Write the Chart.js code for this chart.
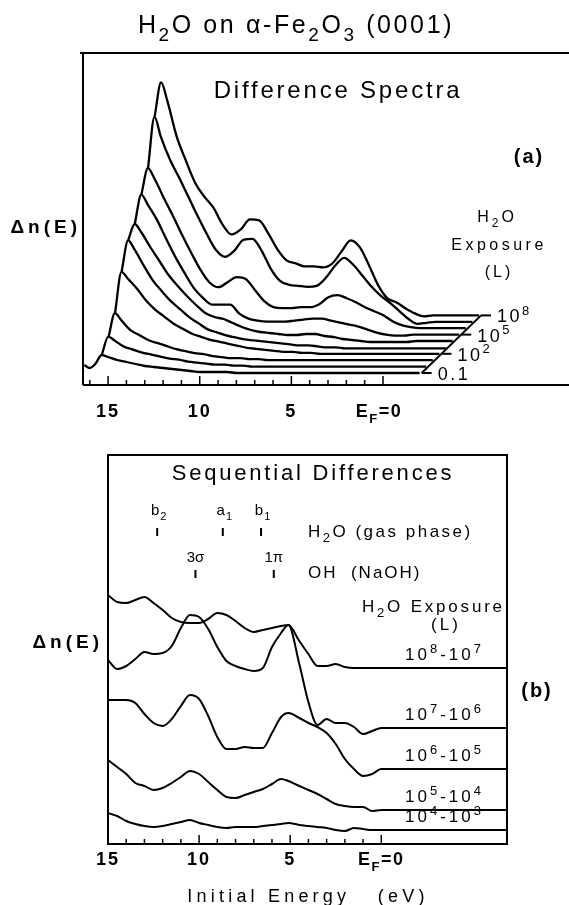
<!DOCTYPE html>
<html>
<head>
<meta charset="utf-8">
<title>H2O on alpha-Fe2O3 (0001)</title>
<script src="https://cdn.jsdelivr.net/npm/chart.js@4.4.1/dist/chart.umd.min.js"></script>
<style>
  html, body { margin: 0; padding: 0; background: #fff; }
  #page { position: relative; width: 569px; height: 905px; }
  canvas { position: absolute; left: 0; }
  #chartA { top: 0; }
  #chartB { top: 430px; }
</style>
</head>
<body>
<div id="page">
  <canvas id="chartA" width="569" height="430"></canvas>
  <canvas id="chartB" width="569" height="475"></canvas>
</div>
<script>
// ---------- (a) difference spectra, front (0.1 L) to back (1e8 L) ----------
const energyA = [16.3, 16.0, 15.7, 15.35, 15.0, 14.5, 14.0, 13.5, 13.0, 12.5, 12.0, 11.5, 11.0, 10.5, 10.0,
  9.5, 9.0, 8.5, 8.0, 7.5, 7.0, 6.5, 6.0, 5.5, 5.0, 4.5, 4.0, 3.5, 3.0, 2.5, 2.0, 1.5, 1.0, 0.5, 0.0,
  -0.5, -1.0, -1.5, -2.0];

const diff0p1 = [20, 17, 21, 30, 28, 25, 23, 21, 19, 18, 17, 16, 15, 14, 13, 13, 13, 13, 12,
  12, 12, 12, 12, 12, 12, 12, 12, 12, 12, 12, 12, 12, 12, 12, 12, 12, 12, 12, 12];
const diff1 = [null, null, 24, 42, 38, 32, 29, 26, 24, 22, 20, 19, 17, 16, 15, 14, 14, 13, 13,
  12, 12, 12, 12, 12, 12, 12, 12, 12, 12, 12, 12, 12, 12, 12, 12, 12, 12, 12, 12];
const diff10 = [null, null, 35, 59, 52, 42, 37, 32, 29, 26, 23, 21, 19, 18, 16, 15, 14, 14, 13,
  13, 12, 12, 12, 12, 12, 12, 12, 12, 12, 12, 12, 12, 12, 12, 12, 12, 12, 12, 12];
const diff1e2 = [null, null, 53, 94, 87, 77, 65, 56, 49, 42, 37, 32, 29, 26, 24, 22, 20, 18, 17,
  16, 15, 14, 14, 13, 13, 12, 12, 12, 12, 12, 12, 12, 12, 12, 12, 12, 12, 12, 12];
const diff1e3 = [null, null, 88, 119, 110, 94, 79, 68, 58, 50, 42, 36, 30, 27, 24, 22, 20, 19, 18,
  17, 16, 15, 14, 14, 13, 12, 12, 11, 11, 11, 11, 11, 11, 11, 11, 11, 11, 11, 11];
const diff1e4 = [null, null, 113, 129, 121, 106, 92, 78, 67, 57, 48, 40, 36, 34, 30, 26, 23, 21, 20,
  19, 18, 18, 19, 19, 17, 16, 14, 13, 12, 11, 11, 11, 11, 11, 12, 12, 12, 12, 12];
const diff1e5 = [null, null, 123, 152, 142, 127, 108, 90, 74, 59, 49, 42, 42, 42, 33, 28, 26, 25, 25,
  25, 26, 27, 28, 28, 26, 24, 22, 20, 17, 14, 12, 11, 11, 12, 12, 12, 12, 12, 12];
const diff1e6 = [null, null, 146, 172, 162, 143, 125, 106, 88, 71, 58, 53, 58, 63, 61, 50, 39, 33, 32,
  32, 33, 33, 36, 43, 45, 42, 38, 33, 29, 25, 19, 15, 13, 12, 12, 12, 12, 12, 12];
const diff1e7 = [null, null, 166, 217, 197, 174, 156, 137, 118, 100, 84, 77, 83, 94, 95, 83, 65, 53, 49,
  48, 47, 48, 56, 68, 76, 69, 58, 47, 38, 31, 23, 15, 10, 11, 12, 12, 12, 12, 12];
const diff1e8 = [null, null, 211, 245, 226, 191, 167, 145, 131, 120, 103, 93, 98, 108, 107, 94, 78, 67, 64,
  61, 61, 60, 64, 76, 87, 80, 62, 42, 29, 25, 19, 14, 11, 12, 12, 12, 12, 12, 12];

const spectraA = [diff0p1, diff1, diff10, diff1e2, diff1e3, diff1e4, diff1e5, diff1e6, diff1e7, diff1e8];
const exposureTicksA = [0, 3, 6, 9];
const exposureLabelsA = [[['0.1', 'n']], [['10', 'n'], ['2', 'sup']], [['10', 'n'], ['5', 'sup']], [['10', 'n'], ['8', 'sup']]];
const ticksA = [16, 15, 14, 13, 12, 11, 10, 9, 8, 7, 6, 5, 4, 3, 2, 1, 0];
const tickLabelsA = [15, 10, 5];

// waterfall offsets between successive exposures
const STEP_E = 0.36;
const STEP_Y = 6.4;

// ---------- (b) sequential differences ----------
const energyB = [15, 14.5, 14, 13.5, 13, 12.5, 12, 11.5, 11, 10.5, 10, 9.5, 9, 8.5, 8, 7.5, 7, 6.5, 6, 5.5,
  5.1, 4.5, 4, 3.5, 3, 2.5, 2, 1.5, 1, 0.5, 0, -6.9];

const seq8to7 = [249, 242, 241, 244, 247, 241, 234, 226, 222, 221, 221, 225, 231, 229, 223, 216, 212, 214, 216, 218,
  219, 203, 190, 178, 178, 180, 177, 176, 176, 176, 176, 176];
const seq7to6 = [184, 175, 178, 185, 192, 190, 191, 198, 216, 229, 227, 215, 197, 183, 178, 175, 173, 176, 197, 211,
  219, 180, 142, 119, 125, 121, 121, 117, 110, 113, 116, 116];
const seq6to5 = [144, 144, 144, 141, 130, 121, 118, 125, 138, 149, 145, 128, 107, 95, 95, 97, 96, 96, 111, 127,
  131, 126, 121, 117, 111, 100, 85, 75, 68, 70, 75, 75];
const seq5to4 = [84, 77, 70, 61, 58, 54, 56, 61, 67, 73, 70, 62, 54, 47, 46, 49, 52, 55, 60, 65,
  63, 58, 54, 50, 45, 40, 38, 37, 37, 33, 34, 34];
const seq4to3 = [31, 28, 23, 20, 18, 17, 18, 20, 22, 24, 21, 19, 17, 16, 17, 17, 17, 18, 19, 20,
  21, 19, 18, 17, 16, 14, 13, 16, 15, 14, 14, 14];

const spectraB = [seq8to7, seq7to6, seq6to5, seq5to4, seq4to3];
const seqLabels = [['8', '7'], ['7', '6'], ['6', '5'], ['5', '4'], ['4', '3']];
const gasPhaseE = [12.3, 8.7, 6.6];
const gasPhaseNames = [['b', '2'], ['a', '1'], ['b', '1']];
const ohE = [10.2, 5.9];
const ohNames = ['3σ', '1π'];
const ticksB = [15, 14, 13, 12, 11, 10, 9, 8, 7, 6, 5, 4, 3, 2, 1, 0];
const tickLabelsB = [15, 10, 5];

const FONT = "'Liberation Sans', Arial, sans-serif";

// draws text made of normal / subscript / superscript runs
function drawRich(ctx, x, y, parts, size, opt = {}) {
  const weight = opt.weight || 'normal';
  const segs = parts.map(([t, kind]) => ({ t, kind, fs: kind === 'n' ? size : Math.round(size * 0.74) }));
  ctx.save();
  ctx.letterSpacing = (opt.spacing || 0) + 'px';
  ctx.fillStyle = '#000';
  ctx.textAlign = 'left';
  ctx.textBaseline = 'alphabetic';
  let total = 0;
  segs.forEach(s => {
    ctx.font = `${weight} ${s.fs}px ${FONT}`;
    s.w = ctx.measureText(s.t).width;
    total += s.w;
  });
  let cx = x;
  if (opt.align === 'center') cx = x - total / 2;
  if (opt.align === 'right') cx = x - total;
  segs.forEach(s => {
    ctx.font = `${weight} ${s.fs}px ${FONT}`;
    let dy = 0;
    if (s.kind === 'sub') dy = size * 0.32;
    if (s.kind === 'sup') dy = -size * 0.42;
    ctx.fillText(s.t, cx, y + dy);
    cx += s.w;
  });
  ctx.restore();
}

function line(ctx, x1, y1, x2, y2) {
  ctx.beginPath();
  ctx.moveTo(x1, y1);
  ctx.lineTo(x2, y2);
  ctx.stroke();
}

function inwardTicks(ctx, scale, bottom) {
  ctx.lineWidth = 1.5;
  scale.ticks.forEach(t => {
    const px = scale.getPixelForValue(t.value);
    line(ctx, px, bottom, px, bottom - (t.value % 5 === 0 ? 9 : 5));
  });
}

function tickLabels(ctx, scale, values, y, dx) {
  values.forEach(v => drawRich(ctx, scale.getPixelForValue(v), y, [[String(v), 'n']], 18, { align: 'center', spacing: 2, weight: 'bold' }));
  drawRich(ctx, scale.getPixelForValue(0) + dx, y, [['E', 'n'], ['F', 'sub'], ['=0', 'n']], 18, { align: 'center', spacing: 1.5, weight: 'bold' });
}

const panelA = {
  id: 'panelA',
  afterDraw(chart) {
    const { ctx, chartArea: a, scales: { x, y } } = chart;
    ctx.save();
    ctx.strokeStyle = '#000';
    ctx.lineWidth = 2;
    line(ctx, 80, a.top, a.right, a.top);
    line(ctx, a.left, a.top, a.left, a.bottom);
    line(ctx, a.left, a.bottom, a.right, a.bottom);
    inwardTicks(ctx, x, a.bottom);
    tickLabels(ctx, x, tickLabelsA, a.bottom + 32, -4);

    // exposure axis joining the ends of the spectra
    const last = energyA.length - 1;
    const endPt = k => ({
      px: x.getPixelForValue(energyA[last] - k * STEP_E) + 2,
      py: y.getPixelForValue(spectraA[k][last] + k * STEP_Y)
    });
    const p0 = endPt(0), p1 = endPt(spectraA.length - 1);
    ctx.lineWidth = 2;
    line(ctx, p0.px, p0.py, p1.px, p1.py);
    exposureTicksA.forEach((k, i) => {
      const p = endPt(k);
      line(ctx, p.px, p.py, p.px + 10, p.py);
      drawRich(ctx, p.px + 16, p.py + 7, exposureLabelsA[i], 18, { spacing: 2.5 });
    });

    drawRich(ctx, 296, 33, [['H', 'n'], ['2', 'sub'], ['O on α-Fe', 'n'], ['2', 'sub'], ['O', 'n'], ['3', 'sub'], [' (0001)', 'n']], 25, { align: 'center', spacing: 2.6 });
    drawRich(ctx, 338, 98, [['Difference Spectra', 'n']], 24, { align: 'center', spacing: 2.8 });
    drawRich(ctx, 529, 163, [['(a)', 'n']], 20, { align: 'center', spacing: 2, weight: 'bold' });
    drawRich(ctx, 81, 233, [['Δn(E)', 'n']], 19, { align: 'right', spacing: 4, weight: 'bold' });
    drawRich(ctx, 497, 222, [['H', 'n'], ['2', 'sub'], ['O', 'n']], 16, { align: 'center', spacing: 3 });
    drawRich(ctx, 499, 250, [['Exposure', 'n']], 16, { align: 'center', spacing: 3.5 });
    drawRich(ctx, 499, 277, [['(L)', 'n']], 16, { align: 'center', spacing: 3 });
    ctx.restore();
  }
};

const panelB = {
  id: 'panelB',
  afterDraw(chart) {
    const { ctx, chartArea: a, scales: { x, y } } = chart;
    ctx.save();
    ctx.strokeStyle = '#000';
    ctx.lineWidth = 2;
    ctx.strokeRect(a.left, a.top, a.right - a.left, a.bottom - a.top);
    inwardTicks(ctx, x, a.bottom);
    tickLabels(ctx, x, tickLabelsB, a.bottom + 21, 0);

    drawRich(ctx, 313, 50, [['Sequential Differences', 'n']], 22, { align: 'center', spacing: 2.8 });

    // reference level markers
    ctx.lineWidth = 2;
    gasPhaseE.forEach((e, i) => {
      const px = x.getPixelForValue(e);
      line(ctx, px, 98, px, 106);
      drawRich(ctx, px + 2, 85, [[gasPhaseNames[i][0], 'n'], [gasPhaseNames[i][1], 'sub']], 15, { align: 'center', spacing: 1 });
    });
    drawRich(ctx, 308, 107, [['H', 'n'], ['2', 'sub'], ['O (gas phase)', 'n']], 17, { spacing: 2.5 });
    ohE.forEach((e, i) => {
      const px = x.getPixelForValue(e);
      line(ctx, px, 140, px, 148);
      drawRich(ctx, px, 132, [[ohNames[i], 'n']], 15, { align: 'center' });
    });
    drawRich(ctx, 308, 148, [['OH  (NaOH)', 'n']], 17, { spacing: 2 });

    drawRich(ctx, 362, 182, [['H', 'n'], ['2', 'sub'], ['O Exposure', 'n']], 17, { spacing: 2.8 });
    drawRich(ctx, 446, 200, [['(L)', 'n']], 17, { align: 'center', spacing: 3 });
    drawRich(ctx, 103, 218, [['Δn(E)', 'n']], 19, { align: 'right', spacing: 4, weight: 'bold' });
    drawRich(ctx, 537, 267, [['(b)', 'n']], 20, { align: 'center', spacing: 2, weight: 'bold' });

    const last = energyB.length - 1;
    spectraB.forEach((s, i) => {
      const py = y.getPixelForValue(s[last]);
      const [e1, e2] = seqLabels[i];
      drawRich(ctx, 405, py - 8, [['10', 'n'], [e1, 'sup'], ['-10', 'n'], [e2, 'sup']], 17, { spacing: 3 });
    });

    drawRich(ctx, 308, 472, [['Initial Energy   (eV)', 'n']], 18, { align: 'center', spacing: 4.2 });
    ctx.restore();
  }
};

function lineSet(data, width) {
  return {
    data,
    borderColor: '#000',
    borderWidth: width,
    pointRadius: 0,
    fill: false,
    spanGaps: false,
    cubicInterpolationMode: 'monotone'
  };
}

function xScale(min, max, ticks) {
  return {
    type: 'linear',
    reverse: true,
    min,
    max,
    afterBuildTicks: s => { s.ticks = ticks.map(v => ({ value: v })); },
    afterFit: s => { s.height = 30; },
    ticks: { display: false },
    grid: { display: false },
    border: { display: false }
  };
}

const common = {
  responsive: false,
  animation: false,
  events: [],
  plugins: { legend: { display: false }, tooltip: { enabled: false } }
};

new Chart(document.getElementById('chartA'), {
  type: 'line',
  data: {
    datasets: spectraA.map((s, k) => lineSet(energyA.map((e, i) => ({
      x: e - k * STEP_E,
      y: s[i] === null ? null : s[i] + k * STEP_Y
    })), 2.3))
  },
  options: {
    ...common,
    layout: { padding: { left: 83, top: 53, right: 0, bottom: 15 } },
    scales: {
      x: xScale(-10.15, 16.37, ticksA),
      y: { display: false, min: 0, max: 332 }
    }
  },
  plugins: [panelA]
});

new Chart(document.getElementById('chartB'), {
  type: 'line',
  data: {
    datasets: spectraB.map(s => lineSet(energyB.map((e, i) => ({ x: e, y: s[i] })), 2))
  },
  options: {
    ...common,
    layout: { padding: { left: 108, top: 25, right: 62, bottom: 31 } },
    scales: {
      x: xScale(-6.9, 15, ticksB),
      y: { display: false, min: 0, max: 389 }
    }
  },
  plugins: [panelB]
});
</script>
</body>
</html>
